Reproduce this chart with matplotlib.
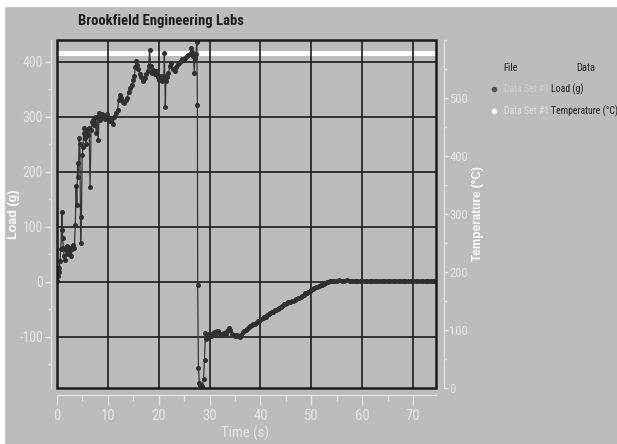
import matplotlib
matplotlib.use("Agg")
import matplotlib.pyplot as plt
from matplotlib import font_manager
from matplotlib.patches import Rectangle
from matplotlib.lines import Line2D
from matplotlib.ticker import MultipleLocator

plt.rcParams["axes.unicode_minus"] = False

# ---------------- data ----------------
time_s = [0.0, 0.15, 0.3, 0.45, 0.6, 0.75, 0.9, 1.0, 1.1, 1.25, 1.4, 1.6, 1.8, 2.0, 2.2, 2.4,
          2.6, 2.8, 3.0, 3.2, 3.4, 3.6, 3.75, 3.9, 4.05, 4.2, 4.35, 4.5, 4.65, 4.8, 4.95, 5.1,
          5.25, 5.4, 5.55, 5.7, 5.9, 6.1, 6.3, 6.5, 6.7, 6.9, 7.1, 7.3, 7.5, 7.7, 7.9, 8.1,
          8.3, 8.5, 8.7, 8.9,
          9.2, 9.5, 9.8, 10.1, 10.4, 10.7, 11.0, 11.3, 11.6, 11.9, 12.1, 12.3, 12.6, 12.9,
          13.2, 13.5, 13.8, 14.1, 14.4, 14.7, 15.0, 15.2, 15.4, 15.6, 15.8, 16.0, 16.3, 16.6,
          16.9, 17.2, 17.5, 17.8, 18.0, 18.2, 18.4, 18.6, 18.9, 19.2, 19.5, 19.8, 20.1, 20.4,
          20.7, 21.0, 21.1, 21.2, 21.3, 21.4, 21.6, 21.9, 22.2, 22.5, 22.8, 23.1, 23.4, 23.7,
          24.0, 24.3, 24.6, 24.9, 25.2, 25.5, 25.8, 26.1, 26.4, 26.6, 26.8, 27.0, 27.1, 27.3,
          27.5, 27.6, 27.65, 27.8, 28.0, 28.2, 28.4, 28.6, 28.8, 29.0, 29.15, 29.3, 29.6, 29.9,
          30.2, 30.5, 30.8, 31.1, 31.4, 31.7, 32.0, 32.3, 32.6, 32.9, 33.2, 33.5, 33.8, 34.1,
          34.4, 34.7, 35.0, 35.3, 35.6, 35.9, 36.2, 36.5, 36.8, 37.1, 37.4, 37.7, 38.0, 38.3,
          38.6, 38.9, 39.2, 39.5, 39.8, 40.1, 40.4, 40.7, 41.0, 41.3, 41.6, 41.9, 42.2, 42.5,
          42.8, 43.1, 43.4, 43.7, 44.0, 44.3, 44.6, 44.9, 45.2, 45.5, 45.8, 46.1, 46.4, 46.7,
          47.0, 47.3, 47.6, 47.9, 48.2, 48.5, 48.8, 49.1, 49.4, 49.7, 50.0, 50.3, 50.6, 50.9,
          51.2, 51.5, 51.8, 52.1, 52.4, 52.7, 53.0, 53.3, 53.6, 54.0, 54.5, 55.0, 55.5, 56.0,
          56.5, 57.0, 57.5, 58.0, 58.5, 59.0, 59.5, 60.0, 60.5, 61.0, 61.5, 62.0, 62.5, 63.0,
          63.5, 64.0, 64.5, 65.0, 65.5, 66.0, 66.5, 67.0, 67.5, 68.0, 68.5, 69.0, 69.5, 70.0,
          70.5, 71.0, 71.5, 72.0, 72.5, 73.0, 73.5, 74.0, 74.4]
load_g = [2, 10, 18, 25, 38, 60, 95, 128, 80, 62, 48, 40, 58, 66, 50, 55,
          62, 48, 60, 68, 62, 104, 175, 140, 216, 190, 262, 250, 70, 118, 230, 245,
          270, 280, 262, 250, 275, 268, 280, 173, 276, 290, 295, 285, 300, 270, 300, 258,
          307, 295, 300, 305,
          300, 296, 305, 300, 292, 298, 288, 300, 307, 312, 330, 340, 335, 328,
          325, 330, 335, 345, 352, 358, 368, 375, 390, 402, 395, 388, 378, 372,
          366, 370, 378, 384, 392, 422, 392, 380, 386, 378, 384, 372, 368, 374,
          365, 375, 416, 370, 319, 365, 372, 380, 392, 398, 388, 384, 390, 396,
          398, 402, 405, 404, 408, 410, 412, 415, 425, 418, 410, 380, 408, 415,
          437, 322, -5, -157, -184, -188, -187, -189, -176, -142, -93, -104, -100, -95,
          -98, -94, -92, -96, -90, -90, -94, -96, -95, -93, -94, -90, -84, -88,
          -94, -96, -98, -97, -99, -100, -96, -92, -90, -88, -85, -82, -80, -78,
          -77, -76, -74, -72, -71, -68, -66, -64, -63, -60, -59, -57, -55, -54,
          -52, -51, -49, -47, -45, -43, -41, -40, -38, -37, -36, -35, -34, -33,
          -31, -30, -29, -27, -25, -23, -21, -20, -18, -16, -14, -13, -12, -10,
          -9, -8, -6, -5, -3, -2, -1, 0, 1, 2, 2, 1, 3, 2,
          2, 3, 1, 2, 2, 1, 2, 1, 2, 2, 1, 2, 1, 2,
          2, 1, 2, 1, 2, 2, 1, 2, 2, 1, 2, 1, 2, 2,
          1, 2, 2, 1, 2, 1, 2, 2, 1]

temp_time = [0.0, 10.0, 20.0, 30.0, 40.0, 50.0, 60.0, 70.0, 74.4]
temp_c = [578, 578, 578, 578, 578, 578, 578, 578, 578]

x_ticks = [0, 10, 20, 30, 40, 50, 60, 70]
load_ticks = [-100, 0, 100, 200, 300, 400]
temp_ticks = [0, 100, 200, 300, 400, 500]

title = "Brookfield Engineering Labs"
legend_file = "File"
legend_data = "Data"
legend_rows = [("Data Set #1", "Load (g)"), ("Data Set #1", "Temperature (\u00b0C)")]

# ---------------- fonts ----------------
ttf = font_manager.fontManager.ttflist
names = {f.name for f in ttf}
narrow_fam = None
for cand in ["Liberation Sans Narrow", "Arial Narrow", "Roboto Condensed",
             "Open Sans Condensed", "Noto Sans Condensed"]:
    if cand in names:
        narrow_fam = cand
        break
if narrow_fam is not None:
    NARROW = dict(family=narrow_fam)
    k = 1.0
else:
    has_cond = any(f.name == "DejaVu Sans" and str(f.stretch) in ("condensed", "semi-condensed")
                   for f in ttf)
    NARROW = dict(family="DejaVu Sans", stretch="condensed")
    k = 0.92 if has_cond else 0.78
BOLD = "Liberation Sans" if "Liberation Sans" in names else "DejaVu Sans"

BG = "#bcbcbc"
LIGHT = "#e6e6e6"
DARK = "#1c1c1c"

W, H = 617, 444
fig = plt.figure(figsize=(W / 100, H / 100), dpi=100, facecolor=BG)

L, R, T, B = 57, 436, 40, 388
ax = fig.add_axes([L / W, 1 - B / H, (R - L) / W, (B - T) / H])
ax2 = ax.twinx()
ax.set_zorder(ax2.get_zorder() + 1)
ax.patch.set_visible(False)
ax2.patch.set_visible(True)
ax2.patch.set_facecolor(BG)

# temperature (white line), drawn under load
ax2.plot(temp_time, temp_c, color="white", lw=3.6, solid_capstyle="butt", zorder=3)
ax2.set_ylim(0, 600)

# load
ax.plot(time_s, load_g, color="#363636", lw=0.9, marker="o", markersize=2.6,
        markerfacecolor="#303030", markeredgecolor="#303030", zorder=4)
ax.set_xlim(0, 74.5)
ax.set_ylim(-193, 440)

# grid / ticks
ax.set_xticks(x_ticks)
ax.set_yticks(load_ticks)
ax.grid(True, color=DARK, lw=1.2, zorder=2)
ax.xaxis.set_minor_locator(MultipleLocator(5))
ax.yaxis.set_minor_locator(MultipleLocator(50))
ax2.set_yticks(temp_ticks)
ax2.yaxis.set_minor_locator(MultipleLocator(50))

# frame
ax.add_patch(Rectangle((0, 0), 1, 1, transform=ax.transAxes, fill=False,
                       edgecolor=DARK, lw=1.8, clip_on=False, zorder=5))

# spines
for s in ["top", "right", "left", "bottom"]:
    ax.spines[s].set_visible(False)
    ax2.spines[s].set_visible(False)
ax.spines["left"].set_visible(True)
ax.spines["left"].set_position(("outward", 4))
ax.spines["left"].set_color(LIGHT)
ax.spines["bottom"].set_visible(True)
ax.spines["bottom"].set_position(("outward", 5))
ax.spines["bottom"].set_color(LIGHT)
ax2.spines["right"].set_visible(True)
ax2.spines["right"].set_position(("outward", 6))
ax2.spines["right"].set_color(LIGHT)

tick_kw = dict(colors=LIGHT, labelcolor=LIGHT)
ax.tick_params(axis="x", which="major", length=7, width=1, pad=3, labelsize=10.5 * k, **tick_kw)
ax.tick_params(axis="x", which="minor", length=4, width=1, **tick_kw)
ax.tick_params(axis="y", which="major", length=4, width=1, pad=2, labelsize=10 * k, **tick_kw)
ax.tick_params(axis="y", which="minor", length=2, width=1, **tick_kw)
ax2.tick_params(axis="y", which="major", length=3, width=1, pad=0.5, labelsize=9 * k, **tick_kw)
ax2.tick_params(axis="y", which="minor", length=2, width=1, **tick_kw)
for lab in ax.get_xticklabels() + ax.get_yticklabels() + ax2.get_yticklabels():
    lab.set(**NARROW)

# labels
ax.set_ylabel("Load (g)", color="white", fontsize=9, fontweight="bold", family=BOLD)
ax.yaxis.set_label_coords((20 - L) / (R - L), 0.5)
ax2.set_ylabel("Temperature (\u00b0C)", color="white", fontsize=8.5, fontweight="bold",
               family=BOLD, rotation=90)
ax2.yaxis.set_label_coords((472 - L) / (R - L), 0.5)
ax.set_xlabel("Time (s)", color=LIGHT, fontsize=10.5 * k, **NARROW)
ax.xaxis.set_label_coords((245 - L) / (R - L), (B - 433) / (B - T))
ax.xaxis.label.set_va("center")

fig.text(161 / W, 1 - 21 / H, title, ha="center", va="center",
         fontsize=10.5 * k, fontweight="bold", color=DARK, **NARROW)

# white page strips
fig.patches.append(Rectangle((0, 1 - 6 / H), 1, 6 / H, transform=fig.transFigure,
                             color="white", zorder=0))
fig.patches.append(Rectangle((0, 0), 4 / W, 1, transform=fig.transFigure,
                             color="white", zorder=0))

# legend (custom table)
fs = 7.0 * k
fig.text(503 / W, 1 - 68 / H, legend_file, fontsize=fs + 0.5, color=DARK,
         ha="left", va="center", **NARROW)
fig.text(576 / W, 1 - 68 / H, legend_data, fontsize=fs + 0.5, color=DARK,
         ha="left", va="center", **NARROW)
row_y = [89, 111]
row_marker = ["#555555", "white"]
row_file_col = ["#d0d0d0", "#e0e0e0"]
for (fname, dname), yy, mc, fc in zip(legend_rows, row_y, row_marker, row_file_col):
    fig.add_artist(Line2D([494 / W], [1 - yy / H], transform=fig.transFigure,
                          marker="o", markersize=3, color=mc, lw=0))
    fig.text(504 / W, 1 - yy / H, fname, fontsize=fs, color=fc,
             ha="left", va="center", **NARROW)
    fig.text(551 / W, 1 - yy / H, dname, fontsize=fs, color=DARK,
             ha="left", va="center", **NARROW)

fig.savefig("out.png", dpi=100, facecolor=BG)
